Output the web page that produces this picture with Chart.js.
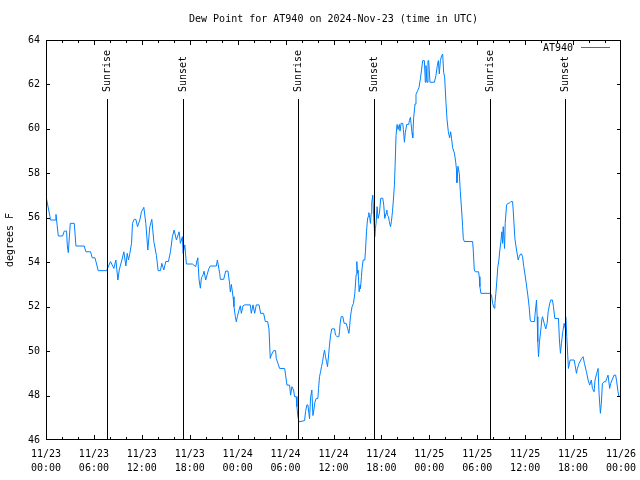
<!DOCTYPE html>
<html>
<head>
<meta charset="utf-8">
<script src="https://cdn.jsdelivr.net/npm/chart.js@4"></script>
<style>
  html, body { margin: 0; padding: 0; background: #fff; }
  #wrap { width: 640px; height: 480px; }
</style>
</head>
<body>
<div id="wrap"><canvas id="dewChart" width="640" height="480"></canvas></div>
<script>
// hours since 11/23 00:00 UTC
const hours = [
  0.05, 0.5, 0.55, 1.13, 1.25, 1.46, 1.54, 2.08, 2.29, 2.58,
  2.67, 2.79, 3.04, 3.54, 3.75, 4.79, 5.0, 5.58, 5.79, 6.13,
  6.33, 6.54, 7.58, 8.08, 8.5, 8.75, 9.0, 9.17, 9.5, 9.75,
  10.0, 10.17, 10.33, 10.5, 10.71, 10.83, 11.04, 11.25, 11.46, 11.75,
  11.96, 12.25, 12.5, 12.75, 13.0, 13.25, 13.5, 13.83, 14.04, 14.33,
  14.5, 14.75, 15.0, 15.33, 15.58, 15.83, 16.04, 16.33, 16.67, 16.83,
  17.08, 17.17, 17.38, 17.58, 18.33, 18.75, 18.92, 19.0, 19.17, 19.33,
  19.46, 19.67, 19.79, 20.0, 20.17, 20.38, 20.58, 21.33, 21.46, 21.75,
  21.83, 22.25, 22.5, 22.79, 23.0, 23.08, 23.21, 23.42, 23.54, 23.71,
  23.83, 23.96, 24.17, 24.33, 24.46, 24.67, 24.88, 25.58, 25.71, 25.92,
  26.13, 26.33, 26.67, 26.88, 27.25, 27.46, 27.75, 27.92, 28.08, 28.21,
  28.5, 28.75, 28.83, 29.04, 29.25, 29.88, 30.0, 30.17, 30.5, 30.63,
  30.79, 31.0, 31.13, 31.33, 31.42, 31.54, 31.67, 32.38, 32.5, 32.67,
  32.79, 32.92, 33.0, 33.13, 33.29, 33.42, 33.54, 33.67, 33.83, 34.04,
  34.13, 34.25, 34.38, 34.5, 34.63, 34.75, 34.88, 35.0, 35.13, 35.25,
  35.33, 35.5, 35.63, 35.79, 36.13, 36.25, 36.46, 36.67, 36.75, 36.83,
  36.96, 37.17, 37.33, 37.58, 37.79, 37.92, 38.0, 38.08, 38.21, 38.33,
  38.5, 38.67, 38.83, 38.92, 39.0, 39.08, 39.21, 39.33, 39.38, 39.5,
  39.58, 39.71, 39.92, 40.0, 40.13, 40.25, 40.33, 40.42, 40.54, 40.63,
  40.71, 40.79, 40.92, 41.04, 41.17, 41.25, 41.33, 41.46, 41.58, 41.75,
  41.92, 42.17, 42.29, 42.42, 42.58, 42.67, 42.75, 42.88, 43.0, 43.13,
  43.25, 43.38, 43.5, 43.63, 43.71, 43.83, 43.96, 44.08, 44.25, 44.33,
  44.46, 44.67, 44.75, 44.88, 45.0, 45.17, 45.42, 45.5, 45.63, 45.71,
  45.83, 45.92, 46.04, 46.21, 46.33, 46.54, 46.71, 46.88, 47.04, 47.17,
  47.38, 47.5, 47.58, 47.71, 47.83, 47.92, 48.08, 48.63, 48.83, 49.0,
  49.13, 49.25, 49.38, 49.54, 49.67, 49.79, 49.92, 50.08, 50.21, 50.38,
  50.54, 50.67, 50.79, 50.92, 51.13, 51.29, 51.42, 51.46, 51.58, 51.75,
  51.88, 52.04, 52.17, 52.25, 52.38, 53.42, 53.5, 53.63, 53.75, 54.17,
  54.25, 54.33, 54.46, 55.58, 55.79, 55.92, 56.13, 56.21, 56.33, 56.46,
  56.58, 56.71, 56.83, 56.96, 57.08, 57.17, 57.25, 57.42, 57.5, 57.67,
  57.83, 58.0, 58.21, 58.42, 58.5, 58.71, 58.92, 59.13, 59.25, 59.42,
  59.54, 59.67, 59.83, 60.08, 60.33, 60.5, 60.63, 60.75, 61.17, 61.25,
  61.42, 61.5, 61.58, 61.67, 61.79, 61.96, 62.08, 62.17, 62.38, 62.58,
  62.75, 62.88, 63.08, 63.21, 63.42, 63.54, 63.71, 64.17, 64.29, 64.42,
  64.54, 64.71, 64.88, 65.04, 65.08, 65.21, 65.33, 65.42, 65.63, 65.75,
  66.13, 66.25, 66.42, 66.54, 66.75, 67.08, 67.25, 67.42, 67.67, 67.88,
  68.08, 68.29, 68.42, 68.63, 68.75, 68.96, 69.13, 69.25, 69.42, 69.54,
  69.67, 69.88, 70.08, 70.21, 70.38, 70.58, 70.71, 71.13, 71.33, 71.46,
  71.63, 71.75
];

// dew point, degrees F
const dewF = [
  56.88, 56.05, 55.9, 55.9, 56.15, 55.45, 55.18, 55.18, 55.4, 55.4,
  54.73, 54.43, 55.75, 55.75, 54.73, 54.73, 54.47, 54.47, 54.2, 54.2,
  53.92, 53.62, 53.62, 54.03, 53.72, 54.1, 53.2, 53.65, 54.1, 54.47,
  53.83, 54.4, 54.1, 54.4, 54.85, 55.75, 55.93, 55.93, 55.6, 55.9,
  56.27, 56.47, 55.75, 54.55, 55.6, 55.93, 54.93, 54.3, 53.62, 53.62,
  53.95, 53.65, 54.03, 54.03, 54.47, 55.15, 55.45, 55.0, 55.37, 54.85,
  55.15, 54.4, 54.78, 53.92, 53.92, 53.8, 54.1, 54.2, 53.2, 52.83,
  53.3, 53.43, 53.6, 53.2, 53.43, 53.7, 53.83, 53.83, 54.1, 53.5,
  53.23, 53.23, 53.6, 53.6, 53.0, 52.67, 53.0, 52.45, 52.0, 51.55,
  51.32, 51.55, 51.85, 52.04, 51.7, 52.04, 52.08, 52.08, 51.7, 52.08,
  51.7, 52.08, 52.08, 51.7, 51.7, 51.33, 51.33, 51.0, 49.67, 49.82,
  50.02, 50.02, 49.67, 49.45, 49.22, 49.22, 48.92, 48.47, 48.47, 48.02,
  48.4, 48.25, 47.95, 47.95, 47.5, 47.05, 46.82, 46.87, 47.28, 47.58,
  47.58, 47.2, 46.95, 47.92, 48.25, 47.1, 47.35, 47.7, 47.87, 47.87,
  48.32, 48.85, 49.07, 49.3, 49.52, 49.82, 50.05, 49.75, 49.52, 49.3,
  49.6, 50.27, 50.72, 51.0, 51.0, 50.72, 50.65, 50.65, 50.87, 51.25,
  51.55, 51.55, 51.25, 51.25, 51.0, 50.8, 51.0, 51.4, 51.77, 52.0,
  52.15, 52.6, 53.43, 54.03, 53.5, 53.65, 52.67, 52.97, 52.82, 53.35,
  53.73, 54.1, 54.1, 54.47, 55.37, 55.9, 56.05, 56.23, 56.0, 55.75,
  56.2, 56.68, 57.02, 56.0, 55.15, 55.52, 55.75, 56.5, 55.97, 56.2,
  56.88, 56.88, 56.58, 55.97, 56.2, 56.35, 56.12, 56.05, 55.82, 55.6,
  55.82, 56.27, 56.8, 57.48, 58.3, 59.7, 60.2, 59.97, 60.2, 59.9,
  60.25, 60.25, 59.97, 59.4, 59.85, 60.2, 60.2, 60.37, 60.52, 60.25,
  59.82, 59.6, 60.52, 61.12, 61.56, 61.72, 61.87, 62.25, 62.7, 63.07,
  63.07, 62.1, 62.85, 62.1, 63.07, 63.07, 62.1, 62.1, 62.4, 62.85,
  63.07, 62.47, 63.07, 63.3, 63.37, 62.55, 62.33, 61.2, 60.45, 59.87,
  59.6, 59.87, 59.55, 59.15, 58.92, 58.55, 58.1, 57.58, 58.32, 58.0,
  57.17, 56.35, 55.6, 55.07, 54.93, 54.93, 54.55, 53.65, 53.57, 53.57,
  53.35, 52.9, 52.6, 52.6, 52.52, 52.15, 51.93, 52.15, 52.6, 53.2,
  53.8, 54.1, 54.55, 54.93, 55.37, 54.85, 55.6, 54.62, 55.75, 56.57,
  56.65, 56.65, 56.73, 56.73, 56.35, 55.07, 54.55, 54.1, 54.25, 54.37,
  54.37, 54.25, 53.8, 53.2, 52.52, 51.99, 51.4, 51.33, 51.33, 51.7,
  52.3, 51.55, 50.42, 49.75, 50.42, 50.95, 51.4, 51.55, 51.25, 51.0,
  51.25, 51.77, 52.15, 52.3, 52.3, 52.0, 51.47, 51.47, 50.5, 49.9,
  50.35, 50.87, 51.25, 51.0, 51.55, 50.65, 49.82, 49.22, 49.6, 49.6,
  49.6, 49.37, 49.0, 49.22, 49.45, 49.67, 49.75, 49.45, 49.07, 48.7,
  48.47, 48.7, 48.32, 48.17, 48.7, 49.0, 49.22, 48.1, 47.2, 47.65,
  48.55, 48.62, 48.62, 48.77, 48.92, 48.32, 48.55, 48.92, 48.92, 48.62,
  48.17, 47.95
];

// sunrise / sunset markers (hours since start)
const sunTimes = [7.58, 17.17, 31.54, 41.04, 55.54, 65.04];
const sunLabels = ['Sunrise', 'Sunset', 'Sunrise', 'Sunset', 'Sunrise', 'Sunset'];

// x tick labels, one per 6 hours
const tickDates = ['11/23', '11/23', '11/23', '11/23', '11/24', '11/24', '11/24', '11/24',
                   '11/25', '11/25', '11/25', '11/25', '11/26'];
const tickTimes = ['00:00', '06:00', '12:00', '18:00', '00:00', '06:00', '12:00', '18:00',
                   '00:00', '06:00', '12:00', '18:00', '00:00'];

const FONT = '"DejaVu Sans Mono", "Liberation Mono", monospace';
const LINE_COLOR = 'rgb(0,128,255)';

const decorations = {
  id: 'decorations',
  afterDraw(chart) {
    const { ctx, chartArea: a, scales: { x, y } } = chart;
    ctx.save();
    ctx.strokeStyle = '#000';
    ctx.lineWidth = 1;

    // frame
    ctx.strokeRect(Math.round(a.left) + 0.5, Math.round(a.top) + 0.5,
                   Math.round(a.width) - 1, Math.round(a.height) - 1);

    // x ticks on bottom and top, every 2h, longer every 6h
    ctx.beginPath();
    for (let h = 2; h < 72; h += 2) {
      const px = Math.round(x.getPixelForValue(h)) + 0.5;
      const len = h % 6 === 0 ? 5 : 3;
      ctx.moveTo(px, a.bottom); ctx.lineTo(px, a.bottom - len);
      ctx.moveTo(px, a.top); ctx.lineTo(px, a.top + len);
    }
    // y ticks on left and right
    for (let v = 48; v < 64; v += 2) {
      const py = Math.round(y.getPixelForValue(v)) + 0.5;
      ctx.moveTo(a.left, py); ctx.lineTo(a.left + 4, py);
      ctx.moveTo(a.right, py); ctx.lineTo(a.right - 4, py);
    }
    ctx.stroke();

    // sunrise / sunset lines and labels
    ctx.font = '10px ' + FONT;
    ctx.fillStyle = '#000';
    sunTimes.forEach((t, i) => {
      const px = Math.round(x.getPixelForValue(t)) + 0.5;
      ctx.beginPath();
      ctx.moveTo(px, a.top + 59);
      ctx.lineTo(px, a.bottom);
      ctx.stroke();
      ctx.save();
      ctx.translate(px, a.top + 52);
      ctx.rotate(-Math.PI / 2);
      ctx.textAlign = 'left';
      ctx.textBaseline = 'middle';
      ctx.fillText(sunLabels[i], 0, 0);
      ctx.restore();
    });

    // legend
    ctx.textAlign = 'right';
    ctx.textBaseline = 'middle';
    ctx.fillText('AT940', a.right - 48, a.top + 8);
    ctx.fillStyle = LINE_COLOR;
    ctx.fillRect(a.right - 40, a.top + 7, 29, 1);
    ctx.fillStyle = '#000';

    // title
    ctx.textAlign = 'center';
    ctx.fillText('Dew Point for AT940 on 2024-Nov-23 (time in UTC)', (a.left + a.right) / 2, 19);

    // y axis title
    ctx.save();
    ctx.translate(10, (a.top + a.bottom) / 2);
    ctx.rotate(-Math.PI / 2);
    ctx.textAlign = 'center';
    ctx.fillText('degrees F', 0, 0);
    ctx.restore();

    ctx.restore();
  }
};

new Chart(document.getElementById('dewChart'), {
  type: 'line',
  data: {
    datasets: [{
      label: 'AT940',
      data: hours.map((h, i) => ({ x: h, y: dewF[i] })),
      borderColor: LINE_COLOR,
      borderWidth: 1,
      pointRadius: 0,
      fill: false,
      tension: 0
    }]
  },
  options: {
    responsive: false,
    animation: false,
    devicePixelRatio: 1,
    layout: { padding: { left: 0, top: 40, right: 19, bottom: 0 } },
    plugins: {
      legend: { display: false },
      title: { display: false },
      tooltip: { enabled: false }
    },
    scales: {
      x: {
        type: 'linear',
        min: 0,
        max: 72,
        grid: { display: false, drawTicks: false },
        border: { display: false },
        afterFit: s => { s.height = 40; s.paddingLeft = 0; s.paddingRight = 0; },
        afterBuildTicks: s => { s.ticks = tickTimes.map((_, i) => ({ value: i * 6 })); },
        ticks: {
          autoSkip: false,
          maxRotation: 0,
          padding: 7,
          color: '#000',
          font: { family: FONT, size: 10, lineHeight: 1.4 },
          callback: (v, i) => [tickDates[i], tickTimes[i]]
        }
      },
      y: {
        min: 46,
        max: 64,
        grid: { display: false, drawTicks: false },
        border: { display: false },
        afterFit: s => { s.width = 46; },
        ticks: {
          stepSize: 2,
          padding: 6,
          color: '#000',
          font: { family: FONT, size: 10 }
        }
      }
    }
  },
  plugins: [decorations]
});
</script>
</body>
</html>
